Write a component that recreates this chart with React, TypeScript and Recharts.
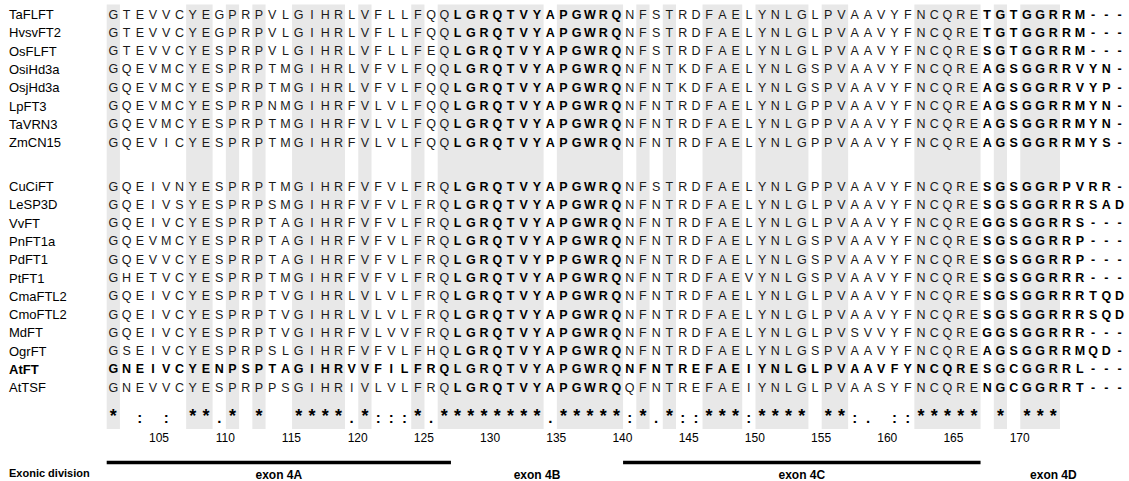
import {
  ScatterChart,
  Scatter,
  XAxis,
  YAxis,
  ReferenceArea,
  ReferenceLine,
} from "recharts";

const FONT = "'Liberation Sans', Arial, Helvetica, sans-serif";

// residue number of the first alignment column
const startResidue = 102;

const monocotNames = ["TaFLFT", "HvsvFT2", "OsFLFT", "OsiHd3a", "OsjHd3a", "LpFT3", "TaVRN3", "ZmCN15"];
const monocotSeqs = [
  "GTEVVCYEGPRPVLGIHRLVFLLFQQLGRQTVYAPGWRQNFSTRDFAELYNLGLPVAAVYFNCQRETGTGGRRM---",
  "GTEVVCYEGPRPVLGIHRLVFLLFQQLGRQTVYAPGWRQNFSTRDFAELYNLGLPVAAVYFNCQRETGTGGRRM---",
  "GTEVVCYESPRPVLGIHRLVFLLFEQLGRQTVYAPGWRQNFSTRDFAELYNLGLPVAAVYFNCQRESGTGGRRM---",
  "GQEVMCYESPRPTMGIHRLVFVLFQQLGRQTVYAPGWRQNFNTKDFAELYNLGSPVAAVYFNCQREAGSGGRRVYN-",
  "GQEVMCYESPRPTMGIHRLVFVLFQQLGRQTVYAPGWRQNFNTKDFAELYNLGSPVAAVYFNCQREAGSGGRRVYP-",
  "GQEVMCYESPRPNMGIHRFVLVLFQQLGRQTVYAPGWRQNFNTRDFAELYNLGPPVAAVYFNCQREAGSGGRRMYN-",
  "GQEVMCYESPRPTMGIHRFVLVLFQQLGRQTVYAPGWRQNFNTRDFAELYNLGPPVAAVYFNCQREAGSGGRRMYN-",
  "GQEVICYESPRPTMGIHRFVLVLFQQLGRQTVYAPGWRQNFNTRDFAELYNLGPPVAAVYFNCQREAGSGGRRMYS-",
];

const dicotNames = [
  "CuCiFT", "LeSP3D", "VvFT", "PnFT1a", "PdFT1", "PtFT1",
  "CmaFTL2", "CmoFTL2", "MdFT", "OgrFT", "AtFT", "AtTSF",
];
const dicotSeqs = [
  "GQEIVNYESPRPTMGIHRFVFVLFRQLGRQTVYAPGWRQNFSTRDFAELYNLGPPVAAVYFNCQRESGSGGRPVRR-",
  "GQEIVSYESPRPSMGIHRFVFVLFRQLGRQTVYAPGWRQNFNTRDFAELYNLGLPVAAVYFNCQRESGSGGRRRSAD",
  "GQEIVCYESPRPTAGIHRFVFVLFRQLGRQTVYAPGWRQNFNTRDFAELYNLGLPVAAVYFNCQREGGSGGRRS---",
  "GQEVMCYESPRPTAGIHRFVFVLFRQLGRQTVYAPGWRQNFNTRDFAELYNLGSPVAAVYFNCQRESGSGGRRP---",
  "GQEVVCYESPRPTAGIHRFVFVLFRQLGRQTVYPPGWRQNFNTRDFAELYNLGSPVAAVYFNCQRESGSGGRRP---",
  "GHETVCYESPRPTMGIHRFVFVLFRQLGRQTVYAPGWRQNFNTRDFAEVYNLGSPVAAVYFNCQRESGSGGRRR---",
  "GQEIVCYESPRPTVGIHRLVLVLFRQLGRQTVYAPGWRQNFNTRDFAELYNLGLPVAAVYFNCQRESGSGGRRRTQD",
  "GQEIVCYESPRPTVGIHRLVLVLFRQLGRQTVYAPGWRQNFNTRDFAELYNLGLPVAAVYFNCQRESGSGGRRRSQD",
  "GQEIVCYESPRPTVGIHRFVLVVFRQLGRQTVYAPGWRQNFNTRDFAELYNLGLPVSVVYFNCQREGGSGGRRR---",
  "GSEIVCYESPRPSLGIHRFVFVLFHQLGRQTVYAPGWRQNFNTRDFAELYNLGSPVAAVYFNCQREAGSGGRRMQD-",
  "GNEIVCYENPSPTAGIHRVVFILFRQLGRQTVYAPGWRQNFNTREFAEIYNLGLPVAAVFYNCQRESGCGGRRL---",
  "GNEVVCYESPRPPSGIHRIVLVLFRQLGRQTVYAPGWRQQFNTREFAEIYNLGLPVAASYFNCQRENGCGGRRT---",
];
const boldRows = ["AtFT"];

const conservation =
  "* : : **.*" + " *  ****.*" + ":::*.*****" + "***.*****:" +
  "*.*::***:*" + "*** **:. :" + ":***** * *" + "**     ";

const positionTicks = [105, 110, 115, 120, 125, 130, 135, 140, 145, 150, 155, 160, 165, 170];

const exonNames = ["exon 4A", "exon 4B", "exon 4C", "exon 4D"];
const exonFirst = [102, 128, 141, 168];
const exonLast = [127, 140, 167, 178];
const exonsWithBar = ["exon 4A", "exon 4C"];
const boldExons = ["exon 4B", "exon 4D"];

// vertical layout, in row units
const GROUP_GAP = 2.4;
const CONS_ROW = 22.32;
const NUM_ROW = 23.13;
const EXON_BAR_ROW = 24.48;
const EXON_LABEL_ROW = 25.14;
const DIVISION_ROW = 25.05;
const SHADE_TOP = -0.55;
const SHADE_BOTTOM = 22.65;

const rows = [
  ...monocotNames.map((name, i) => ({ name, seq: monocotSeqs[i], y: i })),
  ...dicotNames.map((name, j) => ({
    name,
    seq: dicotSeqs[j],
    y: monocotNames.length - 1 + GROUP_GAP + j,
  })),
];

const isBoldColumn = (pos: number) =>
  exonNames.some((n, i) => boldExons.includes(n) && pos >= exonFirst[i] && pos <= exonLast[i]);

const residues = rows.flatMap((r) =>
  r.seq.split("").map((ch, k) => ({
    x: startResidue + k,
    y: r.y,
    ch,
    bold: boldRows.includes(r.name) || isBoldColumn(startResidue + k),
  }))
);

const consPoints = conservation
  .split("")
  .map((ch, k) => ({ x: startResidue + k, y: CONS_ROW, ch }))
  .filter((p) => p.ch !== " ");

// runs of fully conserved columns get the grey band
const shadeRuns: { from: number; to: number }[] = [];
conservation.split("").forEach((ch, k) => {
  const pos = startResidue + k;
  if (ch !== "*") return;
  const last = shadeRuns[shadeRuns.length - 1];
  if (last && last.to === pos - 1) last.to = pos;
  else shadeRuns.push({ from: pos, to: pos });
});

const numPoints = positionTicks.map((p) => ({ x: p, y: NUM_ROW, label: String(p) }));
const exonLabelPoints = exonNames.map((n, i) => ({
  x: (exonFirst[i] + exonLast[i]) / 2,
  y: EXON_LABEL_ROW,
  label: n,
}));

const tickRows = [...rows.map((r) => r.y), DIVISION_ROW];
const tickNames = [...rows.map((r) => r.name), "Exonic division"];

const NameTick = (props: any) => {
  const { y, index } = props;
  const text = tickNames[index];
  const isDivision = text === "Exonic division";
  const bold = isDivision || boldRows.includes(text);
  return (
    <text
      x={9}
      y={y}
      dominantBaseline="central"
      fontFamily={FONT}
      fontSize={isDivision ? 11 : 13}
      fontWeight={bold ? 700 : 400}
      fill="#000"
    >
      {text}
    </text>
  );
};

const Residue = (props: any) => {
  const { cx, cy, payload } = props;
  return (
    <text
      x={cx}
      y={cy}
      textAnchor="middle"
      dominantBaseline="central"
      fontFamily={FONT}
      fontSize={12.5}
      fontWeight={payload.bold ? 700 : 400}
      fill={payload.bold ? "#000" : "#1a1a1a"}
    >
      {payload.ch}
    </text>
  );
};

const ConsMark = (props: any) => {
  const { cx, cy, payload } = props;
  const star = payload.ch === "*";
  return (
    <text
      x={cx}
      y={cy + (star ? -1 : 0)}
      textAnchor="middle"
      fontFamily={FONT}
      fontSize={star ? 18 : 15}
      fontWeight={700}
      fill="#000"
    >
      {payload.ch}
    </text>
  );
};

const PosLabel = (props: any) => {
  const { cx, cy, payload } = props;
  return (
    <text
      x={cx + 6}
      y={cy}
      textAnchor="middle"
      dominantBaseline="central"
      fontFamily={FONT}
      fontSize={12}
      fill="#000"
    >
      {payload.label}
    </text>
  );
};

const ExonLabel = (props: any) => {
  const { cx, cy, payload } = props;
  return (
    <text
      x={cx}
      y={cy}
      textAnchor="middle"
      dominantBaseline="central"
      fontFamily={FONT}
      fontSize={12}
      fontWeight={700}
      fill="#000"
    >
      {payload.label}
    </text>
  );
};

export default function App() {
  return (
    <div style={{ position: "absolute", left: 0, top: 0, width: 1129, height: 481, background: "#fff" }}>
      <ScatterChart width={1129} height={481} margin={{ top: 0.8, right: 2.8, bottom: 0.8, left: 0 }}>
        <XAxis type="number" dataKey="x" domain={[101.5, 178.5]} allowDataOverflow hide />
        <YAxis
          type="number"
          dataKey="y"
          domain={[-0.75, 25.45]}
          allowDataOverflow
          reversed
          ticks={tickRows}
          interval={0}
          axisLine={false}
          tickLine={false}
          width={106.7}
          tick={<NameTick />}
        />
        {shadeRuns.map((r) => (
          <ReferenceArea
            key={r.from}
            x1={r.from - 0.5}
            x2={r.to + 0.5}
            y1={SHADE_TOP}
            y2={SHADE_BOTTOM}
            fill="#e8e8e8"
            fillOpacity={1}
            stroke="none"
            ifOverflow="visible"
          />
        ))}
        {exonNames.map((n, i) =>
          exonsWithBar.includes(n) ? (
            <ReferenceLine
              key={n}
              segment={[
                { x: exonFirst[i] - 0.5, y: EXON_BAR_ROW },
                { x: exonLast[i] + 0.5, y: EXON_BAR_ROW },
              ]}
              stroke="#000"
              strokeWidth={3.5}
              ifOverflow="visible"
            />
          ) : null
        )}
        <Scatter data={residues} shape={<Residue />} isAnimationActive={false} />
        <Scatter data={consPoints} shape={<ConsMark />} isAnimationActive={false} />
        <Scatter data={numPoints} shape={<PosLabel />} isAnimationActive={false} />
        <Scatter data={exonLabelPoints} shape={<ExonLabel />} isAnimationActive={false} />
      </ScatterChart>
    </div>
  );
}
